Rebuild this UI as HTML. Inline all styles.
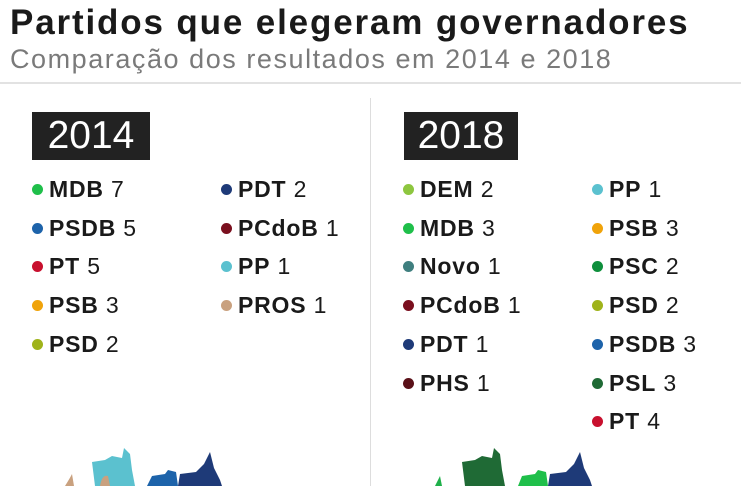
<!DOCTYPE html>
<html><head><meta charset="utf-8"><style>
body{margin:0;width:741px;height:486px;overflow:hidden;background:#fff;font-family:"Liberation Sans",sans-serif;position:relative}
.a{position:absolute}
.t{left:10px;top:3px;font-size:35px;font-weight:bold;color:#1a1a1a;letter-spacing:1.85px}
.s{left:10px;top:44px;font-size:27px;color:#7a7a7a;letter-spacing:1.55px}
.hr{left:0;top:82px;width:741px;height:2px;background:#e2e2e2}
.vr{left:370px;top:98px;width:1px;height:388px;background:#ddd}
.yb{background:#222;color:#fff;font-size:39px;height:48px;line-height:48px;text-align:center;top:112px}
.li{font-size:23px;color:#1a1a1a;white-space:nowrap;line-height:26px;letter-spacing:0.8px}
.li b{font-weight:bold}
.d{display:inline-block;width:11px;height:11px;border-radius:50%;margin-right:6px;vertical-align:2px}
</style></head><body>
<div class="a t">Partidos que elegeram governadores</div>
<div class="a s">Comparação dos resultados em 2014 e 2018</div>
<div class="a hr"></div>
<div class="a vr"></div>
<div class="a yb" style="left:32px;width:118px">2014</div>
<div class="a yb" style="left:404px;width:114px">2018</div>
<div id="leg"></div>
<svg class="a" style="left:0;top:440px" width="741" height="46">
<g>
<path d="M92,22 L105,20 L112,16 L122,18 L124,8 L130,14 L132,30 L135,46 L95,46 Z" fill="#5bc1cf"/>
<path d="M65,46 Q70,38 72,34 L74,46 Z" fill="#c9a17f"/>
<path d="M100,46 Q102,34 108,36 L110,46 Z" fill="#c9a17f"/>
<path d="M147,46 L152,36 L165,34 L168,30 L176,32 L178,46 Z" fill="#1d63aa"/>
<path d="M178,46 L180,34 L196,32 L204,24 L210,12 L214,28 L220,40 L222,46 Z" fill="#1e3a78"/>
</g>
<g>
<path d="M462,22 L475,20 L482,16 L492,18 L494,8 L500,14 L502,30 L505,46 L465,46 Z" fill="#1f6a35"/>
<path d="M435,46 Q438,40 440,36 L442,46 Z" fill="#1fb04a"/>
<path d="M518,46 L522,36 L535,34 L538,30 L546,32 L548,46 Z" fill="#1fbf4a"/>
<path d="M548,46 L550,34 L566,32 L574,24 L580,12 L584,28 L590,40 L592,46 Z" fill="#1e3a78"/>
</g>
</svg>
<script>
const cols2014a=["MDB","PSDB","PT","PSB","PSD"], vals2014a=[7,5,5,3,2], clr2014a=["#1fbf4a","#1d63aa","#c8102e","#f0a30a","#9fb31a"];
const cols2014b=["PDT","PCdoB","PP","PROS"], vals2014b=[2,1,1,1], clr2014b=["#1e3a78","#7a0f1e","#5bc1cf","#c9a17f"];
const cols2018a=["DEM","MDB","Novo","PCdoB","PDT","PHS"], vals2018a=[2,3,1,1,1,1], clr2018a=["#8dc63f","#1fbf4a","#3f7f7f","#7a0f1e","#1e3a78","#5a1018"];
const cols2018b=["PP","PSB","PSC","PSD","PSDB","PSL","PT"], vals2018b=[1,3,2,2,3,3,4], clr2018b=["#5bc1cf","#f0a30a","#0e8f3c","#9fb31a","#1d63aa","#1f6a35","#c8102e"];
const leg=document.getElementById('leg');
function col(names,vals,clrs,x,key){
  names.forEach((n,i)=>{
    const el=document.createElement('div');
    el.className='a li';
    el.style.left=x+'px';
    el.style.top=(176+i*38.7)+'px';
    
    
    el.innerHTML='<span class="d" style="background:'+clrs[i]+'"></span><b>'+n+'</b> '+vals[i];
    leg.appendChild(el);
  });
}
col(cols2014a,vals2014a,clr2014a,32,'2014');
col(cols2014b,vals2014b,clr2014b,221,'2014');
col(cols2018a,vals2018a,clr2018a,403,'2018');
col(cols2018b,vals2018b,clr2018b,592,'2018');
</script>
</body></html>
